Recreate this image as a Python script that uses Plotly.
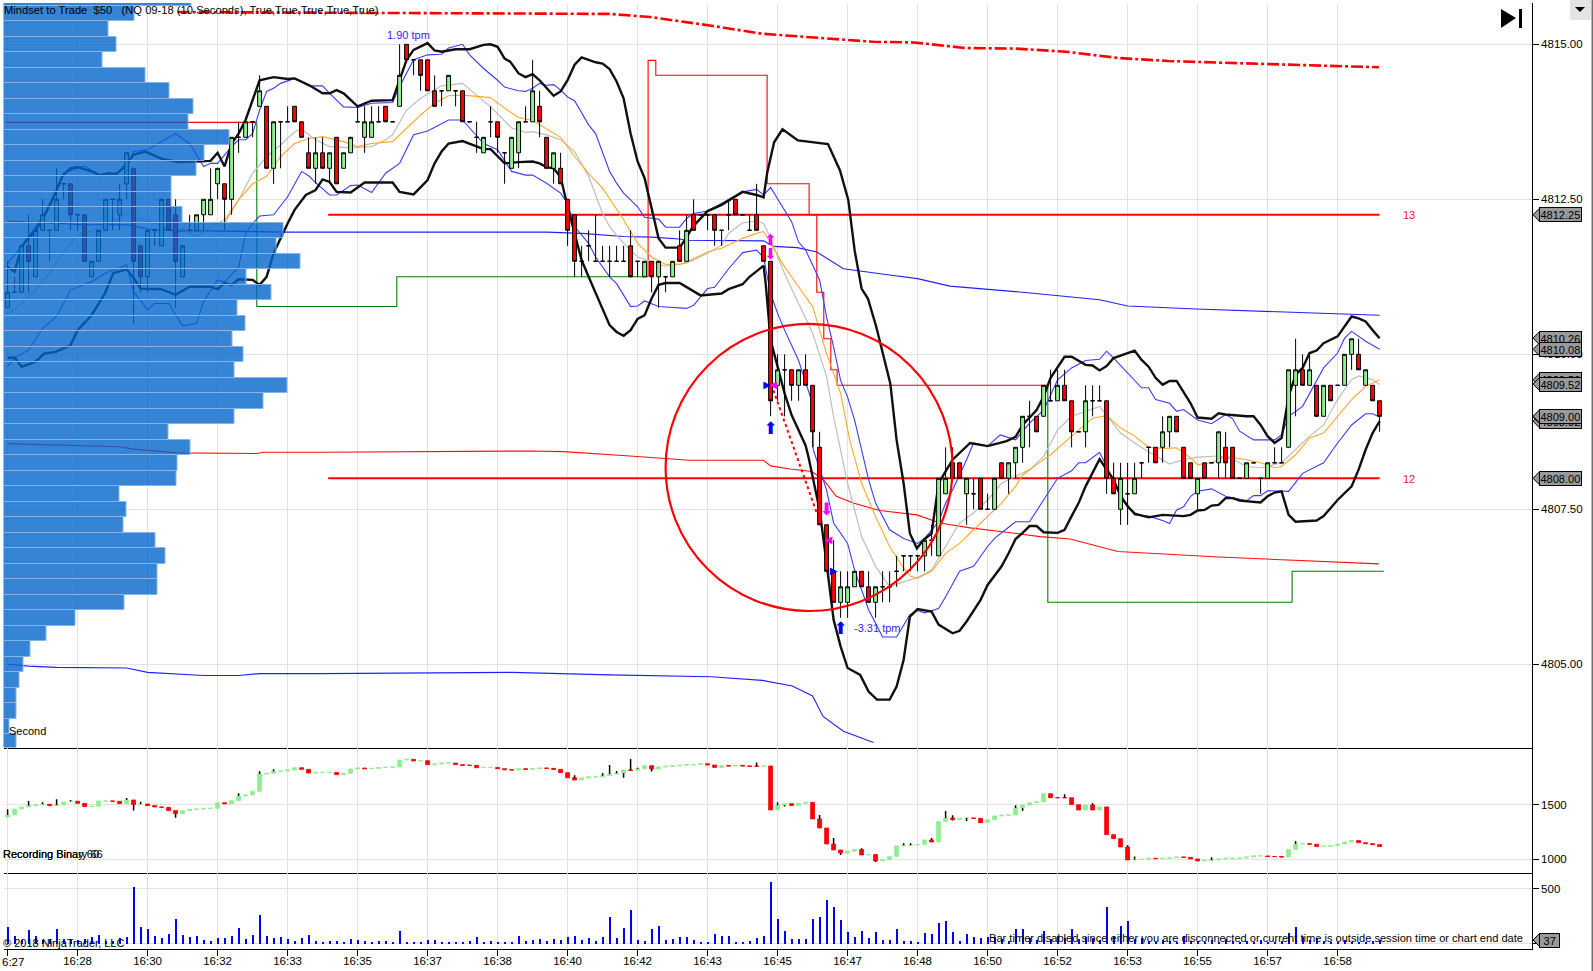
import plotly.graph_objects as go

W, H = 1593, 971

# --- price bars (10 sec) ---
bar_open = [4810.75,4811,4811,4811.75,4811.25,4812,4812,4812,4812.75,4812.75,4812.25,4812.25,4811.25,4811.5,4812,4812.5,4812.25,4812.75,4813,4811.75,
 4811.25,4812,4811.75,4812.5,4812.25,4811.25,4812,4812,4812.25,4812.25,4812.75,4812.75,4812.5,4813.5,4813.5,4813.75,4814,4814,4813,4813.75,
 4813.75,4814,4813.75,4813.25,4813,4813.25,4813,4813.5,4813,4813.25,4813.75,4813.5,4813.5,4813.75,4814,4813.75,4814,4815,4814.75,4814.75,
 4814.75,4814.25,4814.25,4814.25,4814.25,4814.25,4813.75,4813.5,4813.25,4813.75,4813.75,4813.25,4813,4813.25,4813.75,4813.75,4814,4813.5,4813,4813,
 4812.5,4812.25,4811.5,4811.75,4811.5,4811.5,4811.5,4811.5,4811.5,4811.75,4811.5,4811.25,4811.5,4811.25,4811.25,4811.25,4811.75,4811.5,4812.25,4812.25,
 4812.25,4812.25,4812,4812.25,4812.5,4812.25,4812,4812.25,4811.75,4811.5,4809.5,4809.75,4809.75,4809.5,4809.75,4809.5,4808.5,4807.25,4806.5,4806,
 4806,4806.25,4806.5,4806.25,4806,4806.25,4806.25,4806.5,4806.75,4806.75,4806.75,4806.75,4807,4806.75,4807.75,4808.25,4808.25,4807.75,4807.75,4808,
 4807.5,4807.5,4808.25,4808,4808.25,4808.5,4809,4809,4809,4809.25,4809.25,4809.5,4809.25,4808.75,4808.75,4809.25,4809.25,4809.25,4808,4807.5,
 4807.75,4807.75,4808.25,4808.5,4808.5,4808.5,4808.75,4809,4808.5,4808.25,4807.75,4808.25,4808.25,4808.25,4808.5,4808.5,4808,4808,4808.25,4808,
 4808,4808.25,4808.25,4808.5,4809.5,4809.75,4809.5,4809.5,4809,4809.5,4809.5,4809.5,4810,4810,4809.5,4809.5,4809.25]
bar_high = [4811.5,4811.25,4811.75,4812.25,4812,4812.5,4812,4813,4812.75,4812.75,4812.25,4812.25,4811.5,4812,4812.5,4812.5,4812.75,4813.25,4813,4811.75,
 4812,4812,4812.5,4812.5,4812.5,4811.75,4812.25,4812.25,4812.5,4813,4813,4812.75,4813.5,4813.75,4813.75,4813.75,4814.5,4814,4813.75,4813.75,
 4814,4814,4813.75,4813.5,4813.5,4813.5,4813.25,4813.5,4813.25,4813.5,4814,4814,4814,4814,4814,4813.75,4815,4815,4814.75,4814.75,
 4814.75,4814.5,4814.25,4814.5,4814.25,4814.25,4813.75,4813.75,4813.5,4814,4813.75,4813.25,4813.5,4813.75,4814,4814.75,4814.25,4813.5,4813.25,4813.25,
 4812.5,4812.25,4811.75,4812,4812.25,4811.75,4811.75,4811.75,4811.75,4812,4811.5,4811.5,4811.5,4811.5,4811.25,4811.5,4812,4812.25,4812.5,4812.25,
 4812.25,4812.25,4812,4812.5,4812.5,4812.25,4812.25,4812.75,4811.75,4811.5,4810,4810,4809.75,4809.75,4810,4809.5,4808.75,4807.25,4807,4806.5,
 4806.5,4806.5,4806.5,4806.5,4806.25,4806.5,4806.5,4806.75,4806.75,4806.75,4806.75,4807,4807.25,4808,4808.5,4808.5,4808.25,4808,4808,4808,
 4807.75,4808,4808.25,4808.25,4808.5,4809,4809.25,4809,4809.5,4809.75,4809.75,4809.75,4809.25,4808.75,4809.5,4809.5,4809.5,4809.25,4808.25,4808.25,
 4808.25,4808.25,4808.25,4808.5,4808.5,4809,4809,4809,4808.5,4808.25,4808,4808.25,4808.25,4808.75,4808.75,4808.5,4808,4808.25,4808.25,4808,
 4808.25,4808.5,4808.5,4809.75,4810.25,4810,4810,4809.5,4809.5,4809.5,4809.5,4810,4810.25,4810.25,4809.75,4809.5,4809.25]
bar_low = [4810.75,4811,4811,4811,4811.25,4812,4811.5,4812,4812.5,4812,4812,4811.5,4811.25,4811.5,4812,4812,4812,4812.5,4810.5,4811,
 4811,4811.75,4811.75,4812,4810.75,4811.25,4812,4812,4812,4812.25,4812.5,4812,4812.25,4813.25,4813.5,4813.5,4814,4813,4812.75,4813,
 4813.75,4813.75,4813.5,4813,4812.75,4813,4812.75,4812.75,4813,4813.25,4813.75,4813.25,4813.5,4813.75,4813.75,4813.75,4814,4814.75,4814.5,4814.25,
 4814.25,4814,4814,4814.25,4814,4813.75,4813.75,4813.25,4813.25,4813.5,4813.25,4812.75,4813,4813,4813.75,4813.75,4813.5,4813,4812.75,4812.75,
 4811.75,4811.25,4811.25,4811.5,4811.5,4811.5,4811.25,4811.5,4811.5,4811.25,4811.25,4811.25,4811,4810.75,4811,4811.25,4811.5,4811.5,4812,4812.25,
 4812,4811.75,4811.75,4812,4812.25,4812.25,4812,4812,4811.5,4809,4809.25,4809,4809.25,4809.25,4809.5,4808.5,4807.25,4806.5,4806,4805.75,
 4805.75,4806.25,4806.25,4806,4805.75,4806,4806,4806.25,4806.5,4806.5,4806.5,4806.5,4806.75,4806.75,4807.75,4808,4808,4807.25,4807.5,4807.5,
 4807.5,4807.5,4808,4807.75,4808,4808.25,4808.5,4808.75,4809,4809.25,4809.25,4809.25,4808.5,4808.75,4808.5,4809,4809.25,4807.75,4807.75,4807.25,
 4807.25,4807.75,4808,4808.25,4808.25,4808.25,4808.5,4808.75,4808,4808,4807.5,4808,4808.25,4808,4808,4808,4808,4808,4808.25,4807.75,
 4808,4808.25,4808.25,4808.5,4809,4809.5,4809.5,4809,4809,4809.25,4809.5,4809.5,4809.75,4809.75,4809.5,4809.25,4808.75]
bar_close = [4811,4811,4811.75,4811.5,4812,4812.25,4812,4812.5,4812.75,4812.25,4812.25,4811.5,4811.5,4812,4812.5,4812.5,4812.5,4813.25,4811.5,4811.25,
 4812,4812,4812.5,4812,4811.5,4811.75,4812,4812.25,4812.5,4812.5,4813,4812.5,4813.5,4813.5,4813.75,4813.75,4814.25,4813,4813.75,4813.75,
 4813.75,4813.75,4813.5,4813,4813.25,4813,4813.25,4812.75,4813.25,4813.5,4813.75,4813.75,4813.75,4813.75,4813.75,4813.75,4814.5,4814.75,4814.75,4814.5,
 4814.25,4814,4814.25,4814.5,4814.25,4813.75,4813.75,4813.5,4813.5,4813.75,4813.5,4813.25,4813.5,4813.75,4813.75,4814.25,4813.75,4813,4813.25,4812.75,
 4812,4811.5,4811.5,4811.75,4811.5,4811.5,4811.5,4811.5,4811.5,4811.25,4811.5,4811.5,4811.25,4811.5,4811.25,4811.5,4811.5,4812,4812,4812.25,
 4812.25,4812,4812,4812.25,4812.25,4812.25,4812,4812,4811.5,4809.25,4809.75,4809.75,4809.5,4809.75,4809.5,4808.75,4807.25,4806.5,4806,4806.25,
 4806.25,4806.5,4806.25,4806,4806.25,4806.25,4806.25,4806.5,4806.75,4806.75,4806.75,4807,4807,4808,4808,4808,4808,4808,4807.75,4807.5,
 4807.5,4808,4808,4808.25,4808.5,4809,4809,4808.75,4809.5,4809.25,4809.5,4809.25,4808.75,4808.75,4809.25,4809.25,4809.25,4808,4807.75,4808,
 4807.75,4808,4808.25,4808.5,4808.25,4808.75,4809,4808.75,4808,4808,4808,4808,4808.25,4808.75,4808.25,4808,4808,4808.25,4808.25,4808,
 4808.25,4808.25,4808.25,4809.75,4809.75,4809.5,4809.75,4809,4809.5,4809.25,4809.5,4810,4810.25,4809.75,4809.75,4809.25,4809]

# --- volume profile on the left ---
profile_price = [4815.75,4815.5,4815.25,4815,4814.75,4814.5,4814.25,4814,4813.75,4813.5,4813.25,4813,4812.75,4812.5,4812.25,4812,4811.75,4811.5,4811.25,4811,
 4810.75,4810.5,4810.25,4810,4809.75,4809.5,4809.25,4809,4808.75,4808.5,4808.25,4808,4807.75,4807.5,4807.25,4807,4806.75,4806.5,4806.25,4806,
 4805.75,4805.5,4805.25,4805,4804.75,4804.5,4804.25,4804,4803.75]
profile_vol = [188,131,105,113,99,142,166,190,185,226,201,193,168,168,179,280,273,297,243,268,
 234,242,229,240,231,284,260,231,165,187,174,173,116,123,120,152,162,154,154,121,
 72,43,27,20,16,13,13,6,13]

# --- outer bands (black) ---
bb_up_x = [0,1,2,4,5.2,6.6,7.9,9,10,12,13.2,14.4,15.6,16.9,18,19.7,22.1,24.5,26.9,29,30,31,32,33,34,35,36,38,40,41,43.1,45,46,47,48,50,52,55,56,57,58,60,61,62,64,66,68,69,70,71,
 71.8,73,74,75,76,77,78,79,80,81,82,83,84,85,86,87,88,89,90,91,92,93,94,96,96.9,97.9,100,102,105,107,108,108.5,109.5,110.7,112.9,117.2,118.9,120.1,121,122,122.9,124.1,126.1,127,128,128.9,129.9,130.8,132,133,135,137.5,140,142.7,144,145,147,148,149,151,152,154,155,156,157,158,161,162,163,164,165,166,167,168,169,170,172,173,174,177,178,179,180,181,182,183,184,185,186,187,188,190,191,192,193,194,195,196]
bb_up = [4811.41,4811.33,4811.74,4812,4812.22,4812.54,4812.89,4813,4813.02,4812.95,4812.89,4812.92,4812.91,4813.05,4813.22,4813.27,4813.15,4813.1,4813.11,4813.12,4813.25,4813.03,4813.4,4813.56,4813.78,4814.1,4814.42,4814.47,4814.44,4814.45,4814.34,4814.21,4814.21,4814.26,4814.21,4814,4814.09,4814.1,4814.42,4814.75,4814.91,4815.02,4814.9,4814.88,4814.92,4814.92,4814.99,4815,4814.96,4814.77,
 4814.72,4814.53,4814.47,4814.52,4814.42,4814.3,4814.17,4814.24,4814.42,4814.67,4814.79,4814.75,4814.71,4814.69,4814.6,4814.4,4814.13,4813.56,4813.11,4812.84,4812.35,4811.87,4811.72,4811.72,4811.87,4812.06,4812.31,4812.41,4812.62,4812.57,4812.53,4812.92,4813.42,4813.63,4813.45,4813.39,4812.97,4812.49,4811.68,4811.06,4810.9,4810.44,4809.53,4808.62,4807.92,4807.11,4806.87,4807,4807.11,4807.92,4808.3,4808.57,4808.52,4808.6,4808.67,4808.86,4809.1,4809.32,4809.62,4809.96,4809.96,4809.83,4809.82,4809.74,4809.81,4809.94,4810.06,4809.91,4809.8,4809.62,4809.51,4809.57,4809.57,4809.4,4809.21,4808.98,4808.96,4809.05,4809.03,4809,4809,4808.86,4808.68,4808.57,4808.65,4809.32,4809.67,4809.78,4810.02,4810.06,4810.18,4810.29,4810.45,4810.61,4810.58,4810.53,4810.39,4810.26]
bb_lo_x = [0,1,2,4,5.2,6.9,9,10,12,13.9,15.1,17,18,19,21.9,24,26,29,30,31,32,33,35,36,37,38,40,41,42.6,44,45,46,47,48,49,51,55,56,58,60,61,62,63,65,66,68,69,71,73,74,75,76,77,78,79,80,81,82,83,86,87,88,89,90,91,92,93,94,96,97,99,102,103,105,106,108,108.3,109,110,111,112,114,114.4,116,117,118,119,120,121.8,123,124.2,126,127,128,128.9,130,132,133,135,136,137,139,140,142,143,144,145,146,147,148,150,151,152,153,154,155,156,157,158,159,160,161,163,165,168,169,170,171,172,173,174,175,176,179,180,181,182,183,184,187,188,190,192,193,194,195,196]
bb_lo = [4809.94,4809.95,4809.8,4809.88,4810.01,4810.04,4810.15,4810.39,4810.63,4810.98,4811.31,4811.37,4811.23,4811.06,4811.05,4810.96,4811.09,4811.09,4811.05,4811.15,4811.12,4811.21,4811.2,4811.12,4811.25,4811.63,4812.11,4812.33,4812.57,4812.65,4812.82,4812.78,4812.62,4812.61,4812.61,4812.77,4812.77,4812.62,4812.58,4812.81,4813.08,4813.27,4813.4,4813.44,4813.4,4813.31,4813.31,4813.08,4813.1,4813.11,4813.11,4813.08,4813.02,4813,4812.86,4812.38,4811.95,4811.52,4811.25,4810.47,4810.36,4810.3,4810.39,4810.57,4810.63,4810.9,4811.12,4811.15,4811.15,4811.08,4810.95,4810.98,4811.05,4811.13,4811.25,4811.43,4811.14,4810.23,4809.8,4809.37,4809.02,4808.53,4808.35,4807.49,4806.63,4805.72,4805.29,4804.94,4804.83,4804.56,4804.43,4804.43,4804.64,4805.07,4805.77,4805.89,4805.85,4805.64,4805.5,4805.54,4805.69,4806.04,4806.28,4806.58,4806.79,4807.02,4807.12,4807.23,4807.23,4807.13,4807.12,4807.17,4807.39,4807.6,4807.87,4808.08,4808.31,4808.14,4807.98,4807.71,4807.55,4807.43,4807.37,4807.41,4807.39,4807.41,4807.48,4807.49,4807.56,4807.57,4807.68,4807.68,4807.64,4807.61,4807.71,4807.77,4807.79,4807.41,4807.3,4807.32,4807.39,4807.65,4807.87,4808.14,4808.46,4808.73,4808.92]

# --- inner bands (blue) ---
blue_up_x = [0,2,5,7,8,11,13,15,17,18,20,22,24,26,27,28,29,30,32,33,34,35,36,37,38,39,41,43,45,46,48,50,52,55,56,58,60,62,63,65,66,68,70,71,73,74,75,76,77,78,79,80,81,82,83,84,85,86,87,88,89,90,91,93,94,96,97,98,100,102,103,105,107,108,109,110,111,112,113,114,115,116,117,118,119,120,121,122,123,124,126,128,130,131,132,133,134,135,137,138,140,141.8,144,146,148,150,152,154,156,157,158,160,162,163,164,166,167,168,170,172,174,175,176,178,181,182,183,185,187,188,190,191,192,194,196]
blue_up = [4811.47,4811.74,4812.22,4812.65,4812.92,4813.04,4812.89,4812.89,4813.03,4813.27,4813.3,4813.43,4813.56,4813.4,4813.22,4813.03,4813.08,4813.08,4813.35,4813.46,4813.46,4813.56,4813.94,4814.24,4814.29,4814.37,4814.45,4814.33,4814.33,4814.21,4813.99,4813.98,4814.05,4814.06,4814.32,4814.75,4814.83,4814.84,4814.94,4815,4814.83,4814.61,4814.42,4814.31,4814.25,4814.24,4814.29,4814.37,4814.34,4814.35,4814.26,4814.15,4814.09,4813.89,4813.7,4813.56,4813.24,4812.95,4812.76,4812.6,4812.49,4812.38,4812.21,4812.18,4812.05,4812.05,4812.19,4812.27,4812.31,4812.43,4812.5,4812.62,4812.66,4812.57,4812.69,4812.51,4812.32,4812.14,4811.81,4811.68,4811.44,4811.2,4810.6,4810.12,4809.58,4809.31,4808.94,4808.46,4807.98,4807.6,4807.17,4807.03,4806.95,4807.03,4807.17,4807.3,4807.6,4807.81,4808.3,4808.57,4808.52,4808.7,4808.62,4808.89,4809.1,4809.59,4809.78,4809.9,4809.92,4810.05,4809.94,4809.7,4809.46,4809.46,4809.27,4809.21,4809.08,4809.11,4808.94,4808.88,4809.03,4808.96,4808.76,4808.62,4808.62,4808.7,4809,4809.16,4809.59,4809.78,4810.02,4810.26,4810.37,4810.21,4810.08]
blue_lo_x = [0,1,3,5,7,9,12,14,17,18,20,21,23,25,27,28,30,31,33,34,35,36,38,40,42,43,44,46,47,49,50,52,54,56,58,60,63,65,66,68,70,72,74,75,77,79,80,81,83,84,86,87,89,90,91,93,97,98,100,101,103,105,107,108,109,110,111,113,115,115.1,117,118,120,121,123,125,127,128.9,130,131,133,134,136,138,140,141,143,144,146,148,150,152,153,154,156,157,159,161,163,165,166,167,168,169,170,172,174,177,178,179,180,183,185,188,190,192,194,195,196]
blue_lo = [4809.8,4809.94,4810.07,4810.42,4810.61,4811.04,4811.17,4811.31,4811.44,4811.01,4810.72,4810.82,4810.82,4810.46,4810.5,4810.85,4811.2,4811.17,4811.41,4811.95,4812.11,4812.23,4812.25,4812.54,4812.95,4812.88,4812.77,4812.57,4812.57,4812.72,4812.73,4812.61,4812.92,4813.08,4813.54,4813.6,4813.78,4813.78,4813.65,4813.4,4813.3,4812.95,4812.89,4812.89,4812.76,4812.6,4812.43,4812.06,4811.79,4811.57,4811.25,4811.14,4810.77,4810.78,4810.86,4810.77,4810.74,4810.79,4811.06,4811.08,4811.38,4811.64,4811.68,4811.56,4810.98,4810.66,4810.39,4809.9,4809.2,4808.46,4807.81,4807.28,4806.95,4806.52,4805.88,4805.44,4805.44,4805.8,4805.87,4805.83,4805.9,4806.09,4806.5,4806.58,4806.9,4807.03,4807.21,4807.3,4807.3,4807.65,4808,4808.12,4808.25,4808.25,4808.42,4808.19,4807.73,4807.41,4807.39,4807.32,4807.27,4807.49,4807.54,4807.71,4807.79,4807.83,4807.71,4807.64,4807.72,4807.72,4807.8,4807.79,4808.08,4808.25,4808.57,4808.86,4809.04,4809.04,4808.99]

# --- moving averages ---
grey_x = [0,2,4,6,8,10,13,15,17,19,21,23,25,27,29,31,33,35,37,39,41,42,44,46,49,52,54,55,57,59,62,65,67,69,72,74,75,77,79,81,83,85,86,88,90,92,94,97,100,102,103,105,107,108,109,111,113,115,117,118,120,122,124,126,128,130,132,134,136,138,140,142,144,146,148,150,152,154,156,159,161,163,166,168,170,173,175,177,179,182,184,186,188,190,192,193,195,196]
grey = [4810.65,4810.82,4811.04,4811.31,4811.66,4811.92,4812.03,4812.14,4812.27,4812.17,4812.12,4812.01,4812.03,4811.89,4812.06,4812.17,4812.49,4812.92,4813.19,4813.38,4813.59,4813.63,4813.46,4813.35,4813.33,4813.35,4813.46,4813.54,4813.94,4814.13,4814.33,4814.37,4814.18,4813.99,4813.65,4813.58,4813.59,4813.54,4813.46,4813.27,4812.87,4812.27,4812.06,4811.79,4811.57,4811.49,4811.42,4811.47,4811.63,4811.76,4811.95,4812.12,4812.15,4812.11,4811.87,4811.3,4810.82,4810.34,4809.64,4808.99,4807.92,4807.06,4806.58,4806.25,4806.33,4806.4,4806.52,4806.9,4807.28,4807.44,4807.65,4807.92,4808.03,4808.14,4808.35,4808.78,4809,4809.08,4809.16,4808.73,4808.57,4808.43,4808.23,4808.3,4808.34,4808.36,4808.31,4808.19,4808.17,4808.25,4808.46,4808.68,4808.86,4809.27,4809.59,4809.65,4809.59,4809.51]
orange_x = [29,31,33,35,37,39,41,43,45,48,50,52,55,57,59,61,63,65,69,71,73,75,77,79,81,83,85,87,88,90,92,94,96,97,100,102,105,107,108,109,111,113,115,117,119,120.3,122,124,126,128,129,130,132,134,136,138,140,142,144,145,147,149,152,155,157,159,161,163,165,167,169,170,172,174,177,179,181,182,184,186,188,190,192,194,196]
orange = [4812.12,4812.12,4812.49,4812.75,4812.87,4813.19,4813.4,4813.48,4813.51,4813.43,4813.35,4813.4,4813.43,4813.65,4813.86,4814.05,4814.17,4814.18,4814.14,4813.97,4813.82,4813.77,4813.64,4813.5,4813.19,4812.92,4812.68,4812.35,4812.17,4811.79,4811.57,4811.45,4811.45,4811.49,4811.65,4811.71,4811.87,4811.95,4811.98,4811.79,4811.41,4811.09,4810.77,4810.01,4809.37,4808.62,4807.92,4807.38,4806.9,4806.55,4806.42,4806.39,4806.5,4806.79,4806.95,4807.17,4807.38,4807.6,4807.87,4808.05,4808.22,4808.38,4808.68,4808.97,4809.01,4808.81,4808.68,4808.5,4808.48,4808.49,4808.33,4808.22,4808.25,4808.35,4808.3,4808.25,4808.17,4808.19,4808.38,4808.65,4808.73,4809,4809.27,4809.48,4809.59]

# --- long session lines ---
vwap_hi_x = [24.3,72.2,86,91.8,100.5,107.8,115,123.7,129.5,136.8,144,151.3,158.6,165.8,180.3,195.9]
vwap_hi = [4815.52,4815.5,4815.49,4815.44,4815.3,4815.17,4815.11,4815.04,4815.03,4814.94,4814.93,4814.88,4814.78,4814.73,4814.68,4814.63]
vwap_up_x = [0,11,17,20,24,29,40,75,77,82,88,92,96,97,103,108,109.4,112.8,115.6,117,119.4,126,130,134.6,145,156,160,169.8,180,189.4,196]
vwap_up = [4812.15,4812.09,4812.09,4812.02,4811.99,4811.99,4811.97,4811.97,4811.97,4811.95,4811.9,4811.89,4811.86,4811.84,4811.83,4811.83,4811.74,4811.72,4811.65,4811.55,4811.38,4811.28,4811.22,4811.1,4811,4810.88,4810.78,4810.73,4810.69,4810.65,4810.63]
vwap_mid_x = [0,16,18,21.8,24.2,35.6,36.5,44.6,74.6,79.4,84.1,88.9,97.4,108,109,111.8,114.9,116.6,118.4,120.8,124.6,129.9,133.2,137.5,142.7,147.5,151.8,158.6,173,195.9]
vwap_mid = [4808.56,4808.51,4808.47,4808.44,4808.41,4808.4,4808.42,4808.42,4808.44,4808.43,4808.4,4808.36,4808.29,4808.29,4808.2,4808.15,4808.11,4807.97,4807.71,4807.6,4807.48,4807.41,4807.28,4807.2,4807.13,4807.06,4807.02,4806.82,4806.73,4806.62]
vwap_lo_x = [0,3,7,17,20,24,28,33,36,44.6,72,86,100.5,107.8,112.1,115,116.5,119.4,123.7]
vwap_lo = [4805,4804.97,4804.95,4804.94,4804.87,4804.84,4804.82,4804.82,4804.85,4804.85,4804.87,4804.83,4804.8,4804.74,4804.65,4804.49,4804.16,4803.92,4803.74]

# --- step lines ---
step_r1_x = [-0.3,35.6]
step_r1 = [4813.74,4813.74]
step_g1_x = [35.6,35.6,55.6,55.6,91.5]
step_g1 = [4813.74,4810.77,4810.77,4811.25,4811.25]
step_r2_x = [91.5,91.5,92.6,92.6,108.5,108.5,114.5,114.5,115.6,115.6,116.6,116.6,117.6,117.6,118.5,118.5,148.6]
step_r2 = [4811.25,4814.74,4814.74,4814.5,4814.5,4812.75,4812.75,4812.25,4812.25,4811,4811,4810.25,4810.25,4809.75,4809.75,4809.5,4809.5]
step_g2_x = [148.6,148.6,183.5,183.5,196.6]
step_g2 = [4809.5,4806,4806,4806.5,4806.5]

# --- lower panels ---
mid_close = [1408,1463,1482,1494,1500,1506,1494,1500,1528,1534,1515,1485,1488,1537,1537,1534,1512,1546,1503,1509,1494,1482,1478,1448,1420,1448,1460,1463,1469,1469,1521,1512,1540,1583,1592,1626,1785,1791,1810,1813,
 1822,1843,1828,1794,1800,1800,1800,1779,1791,1831,1840,1834,1837,1843,1846,1850,1914,1920,1905,1908,1871,1877,1886,1886,1871,1865,1865,1843,1846,1846,1834,1825,1822,1834,1828,1834,1840,1837,1828,1797,
 1751,1730,1748,1758,1758,1770,1785,1791,1822,1819,1834,1862,1831,1850,1856,1862,1865,1871,1871,1880,1868,1846,1862,1859,1865,1859,1856,1856,1859,1454,1497,1512,1494,1515,1524,1371,1288,1141,1086,1058,
 1074,1089,1040,1043,985,994,1025,1123,1129,1132,1135,1178,1159,1347,1380,1365,1380,1380,1377,1337,1365,1399,1405,1408,1472,1500,1521,1528,1604,1567,1567,1567,1503,1454,1500,1454,1482,1227,1190,1113,
 994,997,1000,1009,1006,1009,1015,1021,1018,1003,985,991,994,1003,1009,1009,1012,1021,1031,1031,1025,1025,1021,1089,1141,1144,1138,1117,1120,1126,1141,1159,1172,1153,1144,1135,1117]
mid_first_open = 1389
mid_wick_i = [0,3,5,7,9,17,18,19,24,33,36,38,81,85,86,87,88,89,90,92,107,110,111,116,118,119,122,124,128,129,132,134,135,135,137,144,145,151,155,160,161,172,184]
mid_wick_v = [1460,1537,1524,1552,1546,1564,1448,1530,1383,1607,1810,1828,1773,1794,1868,1813,1751,1923,1843,1807,1892,1524,1485,1408,1196,1040,1101,975,1147,1147,1196,1445,1405,1356,1353,1497,1445,1598,1518,1129,1025,1018,1169]

volume = [153,72,36,126,66,36,42,135,42,36,30,42,60,81,21,21,51,63,513,153,135,72,54,90,225,81,63,72,36,27,54,54,72,144,45,81,261,72,54,63,
 45,27,54,81,27,18,27,27,18,45,36,27,12,27,27,9,117,18,18,9,36,36,18,18,18,18,27,63,9,27,18,18,18,72,27,36,45,27,45,36,
 63,72,36,54,27,63,243,54,144,306,36,27,135,162,36,45,63,63,36,18,18,90,72,72,9,18,27,54,72,558,225,117,45,45,45,225,243,396,333,216,
 108,63,117,54,108,36,36,135,27,27,9,99,90,189,207,108,27,90,63,54,63,63,45,27,135,135,54,36,117,45,72,54,135,45,63,54,36,333,
 72,162,207,45,54,27,18,36,27,18,72,27,27,9,36,18,45,27,18,27,9,36,9,18,27,96,153,63,36,54,27,9,9,36,18,9,18,27,37]

# --- axis labels ---
time_ticks = list(range(0, 200, 10))
time_labels = ["16:27","16:28","16:30","16:32","16:33","16:35","16:37","16:38","16:40","16:42","16:43","16:45","16:47","16:48","16:50","16:52","16:53","16:55","16:57","16:58"]
price_ticks = [4815,4812.5,4810,4807.5,4805]
tag_prices = [4808.92,4808.99,4809.0,4808.0,4809.59,4809.52,4810.26,4810.08,4812.25]
level_x = [45.8,196]
level_13 = [4812.25,4812.25]
level_12 = [4808,4808]
dotted_x = [109.4,115.6]
dotted_y = [4809.42,4807.44]
sig_x = [109,119,109,109,117,117.3,118,108.5,109.4]
sig_y = [4808.78,4805.55,4811.82,4811.6,4807.48,4807,4806.5,4809.5,4809.5]
sig_txt = ["⬆","⬆","⬆","⬇","⬇","◀","▶","▶","◀"]
sig_col = ["#0000ff","#0000ff","#ff00ff","#ff00ff","#ff00ff","#ff00ff","#0000ff","#0000ff","#ff00ff"]
sig_size = [17,17,15,15,17,10,10,10,10]

# window layout in pixels
LEFT, RIGHT = 3.5, 1531.7
TOP, SPLIT1, SPLIT2, BOTTOM = 3, 747.5, 873.3, 949.3
P_TOP = 4815 + (44.3 - TOP) / 62
P_BOT = 4815 - (SPLIT1 - 44.3) / 62
X_RANGE = [(LEFT - 7.6) / 7, (RIGHT - 7.6) / 7]
def px(x): return x / W
def py(y): return 1 - y / H
def price_y(p): return 44.3 + (4815 - p) * 62

BLACK = "#101010"
fig = go.Figure()

def line(x, y, color, width, dash=None):
    fig.add_trace(go.Scatter(x=x, y=y, mode="lines", hoverinfo="skip",
                             line=dict(color=color, width=width, dash=dash)))

line(vwap_hi_x, vwap_hi, "#ff0000", 2.6, "12px,3px,3px,3px")
line(vwap_up_x, vwap_up, "#2020ff", 1.1)
line(vwap_mid_x, vwap_mid, "#ff1010", 1.1)
line(vwap_lo_x, vwap_lo, "#2020ff", 1.1)
line(step_r1_x, step_r1, "#ff0000", 1.1)
line(step_g1_x, step_g1, "#008000", 1.1)
line(step_r2_x, step_r2, "#ff0000", 1.1)
line(step_g2_x, step_g2, "#008000", 1.1)
line(level_x, level_13, "#ff0000", 2)
line(level_x, level_12, "#ff0000", 2)
line(grey_x, grey, "#bdbdbd", 1.2)
line(orange_x, orange, "#ffa928", 1.1)
line(blue_up_x, blue_up, "#3b3bff", 1.1)
line(blue_lo_x, blue_lo, "#3b3bff", 1.1)
line(bb_up_x, bb_up, BLACK, 2.4)
line(bb_lo_x, bb_lo, BLACK, 2.4)
line(dotted_x, dotted_y, "#ff0000", 2, "dot")

# candles sit on an overlay so they draw over the lines
fig.add_trace(go.Candlestick(x=list(range(len(bar_open))), open=bar_open, high=bar_high, low=bar_low, close=bar_close,
    xaxis="x4", yaxis="y4", whiskerwidth=0, hoverinfo="skip",
    increasing=dict(line=dict(color="#000000", width=1), fillcolor="#90ee90"),
    decreasing=dict(line=dict(color="#000000", width=1), fillcolor="#ff0000")))
# signal arrows
fig.add_trace(go.Scatter(x=sig_x, y=sig_y, mode="text", text=sig_txt, xaxis="x4", yaxis="y4", hoverinfo="skip",
    textfont=dict(family="DejaVu Sans", size=sig_size, color=sig_col)))

# profile goes last, see-through over everything at the left
fig.add_trace(go.Bar(x=profile_vol, y=profile_price, orientation="h", xaxis="x5", yaxis="y5", width=0.25, hoverinfo="skip",
    marker=dict(color="rgba(3,101,204,0.8)", line=dict(color="#86b4e6", width=1))))

# middle panel
mid_open = [mid_first_open] + mid_close[:-1]
mid_hi = [max(a, b) for a, b in zip(mid_open, mid_close)]
mid_lo = [min(a, b) for a, b in zip(mid_open, mid_close)]
fig.add_trace(go.Candlestick(x=list(range(len(mid_close))), open=mid_open, high=mid_hi, low=mid_lo, close=mid_close,
    xaxis="x2", yaxis="y2", whiskerwidth=0, hoverinfo="skip",
    increasing=dict(line=dict(color="#90ee90", width=0.8), fillcolor="#90ee90"),
    decreasing=dict(line=dict(color="#ff0000", width=0.8), fillcolor="#ff0000")))
wick_x, wick_y = [], []
for i, v in zip(mid_wick_i, mid_wick_v):
    edge = mid_hi[i] if v > mid_hi[i] else mid_lo[i]
    wick_x += [i, i, None]
    wick_y += [edge, v, None]
fig.add_trace(go.Scatter(x=wick_x, y=wick_y, mode="lines", xaxis="x2", yaxis="y2", hoverinfo="skip",
                         line=dict(color="#000000", width=1.5)))

# volume panel
fig.add_trace(go.Bar(x=list(range(len(volume))), y=volume, xaxis="x3", yaxis="y3", width=0.3,
                     marker=dict(color="#0000ff", line=dict(width=0)), hoverinfo="skip"))

dom_x = [px(LEFT), px(RIGHT)]
grid = "#e2e2e2"
tick_font = dict(family="Liberation Sans", size=11.5, color="#000000")
xcommon = dict(domain=dom_x, range=X_RANGE, tickmode="array", tickvals=time_ticks, ticktext=time_labels,
               showgrid=True, gridcolor=grid, gridwidth=1.3, zeroline=False, rangeslider=dict(visible=False),
               showline=True, linecolor="#000000", linewidth=1.2, tickfont=tick_font, fixedrange=True)
ycommon = dict(side="right", showgrid=True, gridcolor=grid, gridwidth=1.3, zeroline=False, ticks="outside", ticklen=6,
               tickcolor="#000000", showline=True, linecolor="#000000", linewidth=1.2, tickfont=tick_font, fixedrange=True)
hidden = dict(visible=False, fixedrange=True, showgrid=False, zeroline=False)

fig.update_layout(
    width=W, height=H,
    margin=dict(l=0, r=0, t=0, b=0),
    paper_bgcolor="#ffffff", plot_bgcolor="#ffffff",
    showlegend=False, bargap=0, boxgap=0.2, hovermode=False,
    xaxis=dict(**xcommon, anchor="y", showticklabels=False, ticks=""),
    xaxis2=dict(**xcommon, anchor="y2", showticklabels=False, ticks=""),
    xaxis3=dict(**xcommon, anchor="y3", ticks="outside", ticklen=6, tickcolor="#000000", ticklabelstandoff=-5),
    xaxis4=dict(**hidden, overlaying="x", range=X_RANGE, anchor="y4", rangeslider=dict(visible=False), domain=dom_x),
    xaxis5=dict(**hidden, overlaying="x", range=[0, RIGHT - LEFT], anchor="y5", domain=dom_x),
    yaxis=dict(**ycommon, anchor="x", domain=[py(SPLIT1), py(TOP)], range=[P_BOT, P_TOP], tickvals=price_ticks,
               ticktext=[f"{p:.2f}" for p in price_ticks]),
    yaxis2=dict(**ycommon, anchor="x2", domain=[py(SPLIT2), py(SPLIT1)], range=[871, 2029], tickvals=[1000, 1500]),
    yaxis3=dict(**ycommon, anchor="x3", domain=[py(BOTTOM), py(SPLIT2)], range=[-48, 639], tickvals=[0, 500]),
    yaxis4=dict(**hidden, overlaying="y", range=[P_BOT, P_TOP], anchor="x4", domain=[py(SPLIT1), py(TOP)]),
    yaxis5=dict(**hidden, overlaying="y", range=[P_BOT, P_TOP], anchor="x5", domain=[py(SPLIT1), py(TOP)]),
)

def note(x, y, text, size=11, color="#000000", anchor="left", **kw):
    fig.add_annotation(x=px(x), y=py(y), xref="paper", yref="paper", text=text, showarrow=False, xanchor=anchor,
                       yanchor="middle", font=dict(family="Liberation Sans", size=size, color=color), **kw)

note(2, 10, "Mindset to Trade  $50   (NQ 09-18 (10 Seconds), True,True,True,True,True)", 11.2)
note(7, 731, "Second", 11)
note(1, 854, "Recording Binary 66", 11)
note(1, 854, "Recording Binay 60", 11)
note(1, 943, "© 2018 NinjaTrader, LLC", 11)
note(0, 961.5, "6:27", 11.5)
note(1525, 938, "Bar timer disabled since either you are disconnected or current time is outside session time or chart end date", 11.1, anchor="right")
note(385, 35, "1.90 tpm", 11, "#3a20ff")
note(852, 628, "-3.31 tpm", 11, "#3a20ff")
note(1401, 215, "13", 11, "#ff1040")
note(1401, 479, "12", 11, "#ff1040")

for p in tag_prices:
    note(1539, price_y(p), f"{p:.2f}", 11, bgcolor="#999999", bordercolor="#000000", borderwidth=1, borderpad=0.5)
note(1539, 940, " 37 ", 11, bgcolor="#999999", bordercolor="#000000", borderwidth=1, borderpad=0.5)

def path_shape(points, fill, edge=None):
    d = "M " + " L ".join(f"{px(a)} {py(b)}" for a, b in points) + " Z"
    fig.add_shape(type="path", path=d, xref="paper", yref="paper", fillcolor=fill,
                  line=dict(width=1 if edge else 0, color=edge))

# ellipse drawn on the chart, skip-to-end icon, corner button
fig.add_shape(type="circle", xref="x", yref="y", x0=94, x1=135, y0=4805.86, y1=4810.49,
              line=dict(color="#ff0000", width=2.2))
path_shape([(1501, 9), (1516, 18), (1501, 28)], "#000000")
path_shape([(1519, 9), (1522, 9), (1522, 28), (1519, 28)], "#000000")
path_shape([(1570, 0), (1591, 0), (1591, 20), (1570, 20)], "#e4e4e4")
path_shape([(1575, 7), (1585, 7), (1580, 12)], "#000000")
path_shape([(1591.5, 0), (1593, 0), (1593, 971), (1591.5, 971)], "#707070")
for y in [price_y(p) for p in tag_prices] + [940]:
    path_shape([(1533, y), (1540, y - 7), (1540, y + 7)], "#999999", "#000000")

# page default body margin would shift the chart by 8px
fig.write_html("out.html", config={"displayModeBar": False},
               post_script="document.body.style.margin='0';document.documentElement.style.overflow='hidden';")
